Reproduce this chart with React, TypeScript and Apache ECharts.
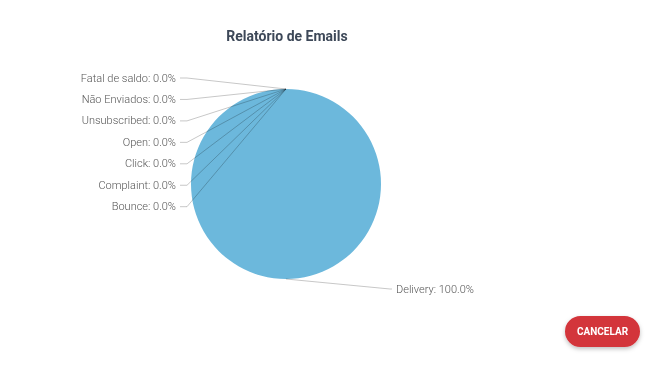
import React, { useEffect, useRef } from "react";
import * as echarts from "echarts";

const titleText = "Relatório de Emails";
const categories = [
  "Delivery",
  "Fatal de saldo",
  "Não Enviados",
  "Unsubscribed",
  "Open",
  "Click",
  "Complaint",
  "Bounce",
];
const values = [100, 0, 0, 0, 0, 0, 0, 0];
const buttonText = "CANCELAR";

export default function App() {
  const ref = useRef<HTMLDivElement>(null);
  useEffect(() => {
    document.body.style.margin = "0";
    const chart = echarts.init(ref.current!, null, { renderer: "svg" });
    const labelRight = 176;
    const labelTop = 78;
    const labelStep = 21.45;
    const data = categories.map((name, i) => ({ name, value: values[i] }));
    const common = {
      type: "pie",
      center: [286, 184],
      radius: 95,
      startAngle: 90,
      clockwise: true,
      minShowLabelAngle: 0,
      avoidLabelOverlap: false,
      data,
    };
    chart.setOption({
      animation: false,
      backgroundColor: "#ffffff",
      color: ["#6cb8dc"],
      title: {
        text: titleText,
        left: 282,
        top: 24,
        textAlign: "center",
        textStyle: {
          fontFamily: "Roboto",
          fontSize: 14,
          fontWeight: "bold",
          color: "#3d4858",
        },
      },
      series: [
        {
          ...common,
          z: 1,
          itemStyle: { color: "#6cb8dc", borderWidth: 0 },
          label: { show: false },
          labelLine: { show: false },
          silent: true,
        },
        {
          ...common,
          z: 3,
          itemStyle: { color: "rgba(0,0,0,0)", borderWidth: 0 },
          label: {
            show: true,
            position: "outside",
            fontFamily: "Roboto",
            fontSize: 11,
            fontWeight: 300,
            color: "#555555",
            textBorderWidth: 0,
            textBorderColor: "transparent",
            textShadowBlur: 0,
            formatter: (p: any) => `${p.name}: ${p.percent.toFixed(1)}%`,
          },
          labelLine: {
            show: true,
            lineStyle: { color: "rgba(0,0,0,0.22)", width: 1 },
          },
          labelLayout: (p: any) => {
            const edge = p.labelLinePoints ? p.labelLinePoints[0] : [286, 89];
            if (p.dataIndex === 0) {
              const y = edge[1] + 10;
              const x = edge[0] + 110;
              return {
                x,
                y,
                align: "left",
                verticalAlign: "middle",
                labelLinePoints: [edge, [x - 6, y], [x - 4, y]],
              };
            }
            const k = p.dataIndex - 1;
            const y = labelTop + k * labelStep;
            return {
              x: labelRight,
              y,
              align: "right",
              verticalAlign: "middle",
              labelLinePoints: [edge, [labelRight + 11, y], [labelRight + 4, y]],
            };
          },
        },
      ],
      graphic: [
        {
          type: "rect",
          shape: { x: 565, y: 316, width: 75, height: 31, r: 15.5 },
          style: {
            fill: "#d3343a",
            shadowBlur: 4,
            shadowOffsetY: 2,
            shadowColor: "rgba(0,0,0,0.25)",
          },
        },
        {
          type: "text",
          x: 602.5,
          y: 331.5,
          style: {
            text: buttonText,
            fill: "#ffffff",
            font: "bold 10px Roboto",
            align: "center",
            verticalAlign: "middle",
          },
        },
      ],
    });
    return () => chart.dispose();
  }, []);
  return <div ref={ref} style={{ width: 646, height: 369, opacity: 0.999 }} />;
}
